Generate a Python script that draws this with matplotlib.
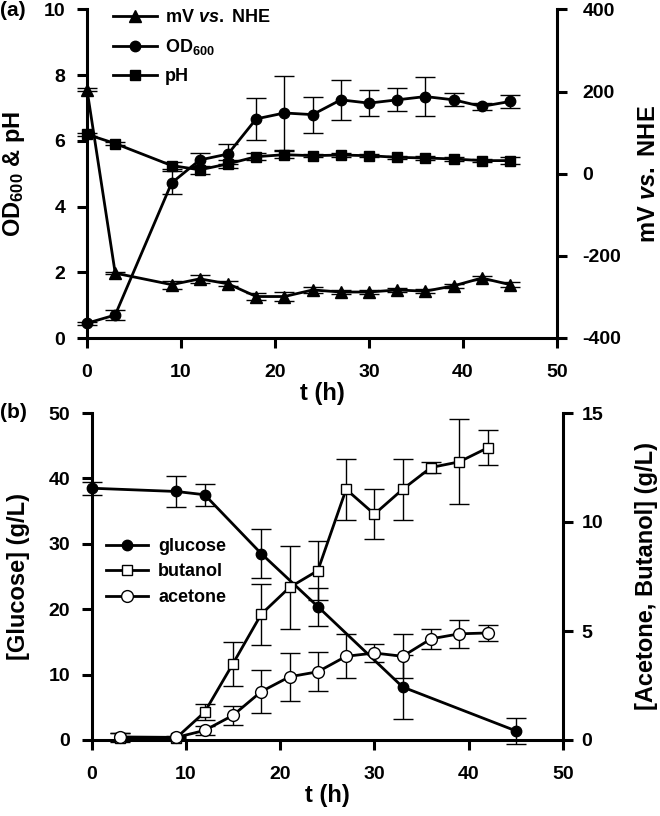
import matplotlib
matplotlib.use("Agg")
import matplotlib.pyplot as plt
from matplotlib.lines import Line2D

plt.rcParams['font.family'] = ['Liberation Sans', 'DejaVu Sans']
plt.rcParams['font.weight'] = 'bold'
plt.rcParams['axes.unicode_minus'] = False
plt.rcParams['mathtext.fontset'] = 'custom'
plt.rcParams['mathtext.rm'] = 'Liberation Sans:bold'
plt.rcParams['mathtext.bf'] = 'Liberation Sans:bold'
plt.rcParams['mathtext.it'] = 'Liberation Sans:bold:italic'
plt.rcParams['mathtext.default'] = 'rm'

# ---------------- panel (a) data ----------------
t_a = [0, 3, 9, 12, 15, 18, 21, 24, 27, 30, 33, 36, 39, 42, 45]
od600 = [0.45, 0.7, 4.72, 5.42, 5.6, 6.67, 6.85, 6.8, 7.25, 7.15, 7.25, 7.35, 7.25, 7.05, 7.2]
od600_err = [0.05, 0.15, 0.35, 0.22, 0.3, 0.65, 1.13, 0.55, 0.6, 0.4, 0.35, 0.6, 0.2, 0.1, 0.2]
ph = [6.2, 5.92, 5.25, 5.12, 5.3, 5.52, 5.58, 5.55, 5.57, 5.55, 5.5, 5.48, 5.45, 5.4, 5.4]
ph_err = [0.05, 0.05, 0.12, 0.12, 0.12, 0.1, 0.1, 0.05, 0.05, 0.05, 0.05, 0.05, 0.05, 0.05, 0.1]
mv = [205, -242, -270, -256, -268, -299, -299, -283, -288, -288, -283, -286, -273, -254, -270]
mv_err = [3, 3, 10, 10, 6, 8, 10, 8, 5, 5, 5, 5, 5, 5, 6]

# ---------------- panel (b) data ----------------
t_glc = [0, 9, 12, 18, 24, 33, 45]
glucose = [38.5, 38.0, 37.5, 28.5, 20.4, 8.1, 1.4]
glucose_err = [1.0, 2.3, 1.7, 3.8, 2.9, 4.9, 2.0]
t_sol = [3, 9, 12, 15, 18, 21, 24, 27, 30, 33, 36, 39, 42]
butanol = [0.1, 0.1, 1.28, 3.5, 5.77, 7.0, 7.77, 11.5, 10.36, 11.5, 12.5, 12.76, 13.4]
butanol_err = [0.2, 0.05, 0.36, 1.0, 1.4, 1.9, 1.35, 1.4, 1.15, 1.4, 0.25, 1.95, 0.8]
acetone = [0.14, 0.12, 0.44, 1.13, 2.22, 2.9, 3.13, 3.84, 3.99, 3.84, 4.64, 4.87, 4.91]
acetone_err = [0.2, 0.05, 0.22, 0.45, 1.0, 1.1, 0.9, 1.0, 0.4, 1.0, 0.45, 0.63, 0.37]

W, H = 660, 816
fig = plt.figure(figsize=(W / 100, H / 100), dpi=100)

def rect(l, t, r, b):
    return [l / W, 1 - b / H, (r - l) / W, (b - t) / H]

ax1 = fig.add_axes(rect(87, 9.5, 557, 338))
ax1r = ax1.twinx()
ax2 = fig.add_axes(rect(91.5, 413, 563, 740))
ax2r = ax2.twinx()

LW = 2.0
MS = 7.5
eb = dict(ecolor='black', elinewidth=1.0, capsize=7.5, capthick=1.0)
FS_TICK = 14
FS_LAB = 17
FS_LEG = 13

def style(ax, ypad=8):
    ax.spines['top'].set_visible(False)
    for s in ['left', 'right', 'bottom']:
        ax.spines[s].set_linewidth(2.2)
    ax.tick_params(axis='both', direction='out', length=7.5, width=2.2, labelsize=FS_TICK)
    ax.tick_params(axis='x', pad=11)
    ax.tick_params(axis='y', pad=ypad)
    for lab in ax.get_xticklabels() + ax.get_yticklabels():
        lab.set_fontweight('bold')

def clipoff(cont):
    cont.lines[0].set_clip_on(False)
    for grp in cont.lines[1:]:
        for a in grp:
            a.set_clip_on(False)

# panel (a)
c = ax1.errorbar(t_a, od600, yerr=od600_err, color='black', marker='o', ms=MS, lw=LW, **eb, zorder=3)
clipoff(c)
c = ax1.errorbar(t_a, ph, yerr=ph_err, color='black', marker='s', ms=MS - 0.5, lw=LW, **eb, zorder=3)
clipoff(c)
c = ax1r.errorbar(t_a, mv, yerr=mv_err, color='black', marker='^', ms=MS + 0.5, lw=LW, **eb, zorder=3)
clipoff(c)
ax1.set_xlim(0, 50)
ax1.set_ylim(0, 10)
ax1r.set_ylim(-400, 400)
ax1.set_xticks([0, 10, 20, 30, 40, 50])
ax1.set_yticks([0, 2, 4, 6, 8, 10])
ax1r.set_yticks([-400, -200, 0, 200, 400])
ax1.spines['right'].set_visible(False)
ax1r.spines['left'].set_visible(False)
ax1r.spines['bottom'].set_visible(False)
style(ax1); style(ax1r, ypad=11)
ax1.set_xlabel('t (h)', fontsize=FS_LAB, fontweight='bold')
ax1.xaxis.set_label_coords(0.5, -0.135)
ax1.set_ylabel('OD$_{600}$ & pH', fontsize=FS_LAB, fontweight='bold')
ax1.yaxis.set_label_coords(-0.128, 0.5)
ax1r.set_ylabel(r'mV $\mathit{vs.}$ NHE', fontsize=FS_LAB, fontweight='bold')
ax1r.yaxis.set_label_coords(1.17, 0.5)

h_a = [Line2D([], [], color='black', marker='^', ms=MS + 0.5, lw=LW),
       Line2D([], [], color='black', marker='o', ms=MS, lw=LW),
       Line2D([], [], color='black', marker='s', ms=MS - 0.5, lw=LW)]
ax1.legend(h_a, [r'mV $\mathit{vs.}$ NHE', 'OD$_{600}$', 'pH'], loc='upper left',
           bbox_to_anchor=(0.055, 1.0), borderaxespad=0, borderpad=0, frameon=False,
           handlelength=2.45, handletextpad=0.45, labelspacing=0.6,
           prop={'weight': 'bold', 'size': FS_LEG})

# panel (b)
c = ax2.errorbar(t_glc, glucose, yerr=glucose_err, color='black', marker='o', ms=MS, lw=LW, **eb, zorder=3)
clipoff(c)
c = ax2r.errorbar(t_sol, butanol, yerr=butanol_err, color='black', marker='s', ms=MS, lw=LW,
                  mfc='white', mec='black', mew=1.0, **eb, zorder=3)
clipoff(c)
c = ax2r.errorbar(t_sol, acetone, yerr=acetone_err, color='black', marker='o', ms=MS + 1, lw=LW,
                  mfc='white', mec='black', mew=1.0, **eb, zorder=3)
clipoff(c)
ax2.set_xlim(0, 50)
ax2.set_ylim(0, 50)
ax2r.set_ylim(0, 15)
ax2.set_xticks([0, 10, 20, 30, 40, 50])
ax2.set_yticks([0, 10, 20, 30, 40, 50])
ax2r.set_yticks([0, 5, 10, 15])
ax2.spines['right'].set_visible(False)
ax2r.spines['left'].set_visible(False)
ax2r.spines['bottom'].set_visible(False)
style(ax2); style(ax2r, ypad=6)
ax2.set_xlabel('t (h)', fontsize=FS_LAB, fontweight='bold')
ax2.xaxis.set_label_coords(0.5, -0.135)
ax2.set_ylabel('[Glucose] (g/L)', fontsize=FS_LAB, fontweight='bold')
ax2.yaxis.set_label_coords(-0.13, 0.5)
ax2r.set_ylabel('[Acetone, Butanol] (g/L)', fontsize=FS_LAB, fontweight='bold')
ax2r.yaxis.set_label_coords(1.153, 0.5)

h_b = [Line2D([], [], color='black', marker='o', ms=MS, lw=LW),
       Line2D([], [], color='black', marker='s', ms=MS, lw=LW, mfc='white', mew=1.0),
       Line2D([], [], color='black', marker='o', ms=MS + 1, lw=LW, mfc='white', mew=1.0)]
ax2.legend(h_b, ['glucose', 'butanol', 'acetone'], loc='upper left',
           bbox_to_anchor=(0.031, 0.618), borderaxespad=0, borderpad=0, frameon=False,
           handlelength=2.33, handletextpad=0.55, labelspacing=0.47,
           prop={'weight': 'bold', 'size': FS_LEG})

fig.text(0 / W, 1 - 11 / H, '(a)', fontsize=15, fontweight='bold', va='center')
fig.text(0 / W, 1 - 412 / H, '(b)', fontsize=15, fontweight='bold', va='center')

fig.savefig('out.png', dpi=100)
